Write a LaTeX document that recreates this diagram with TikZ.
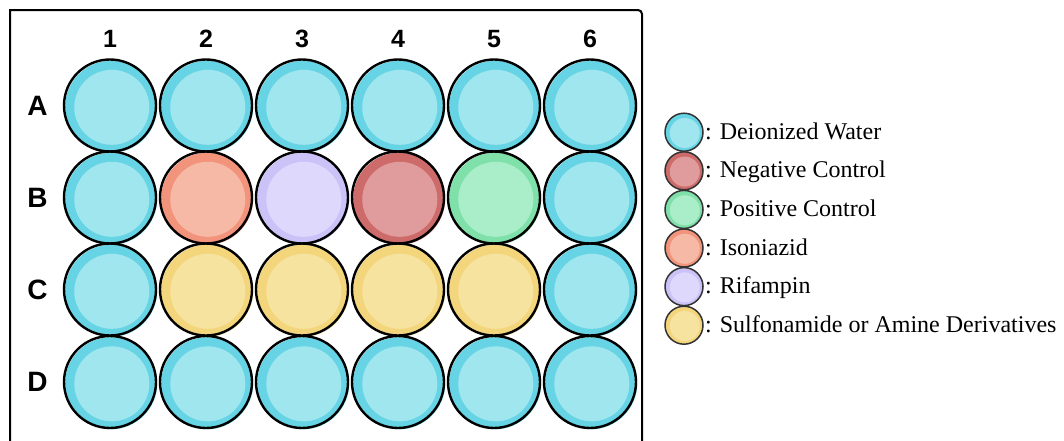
\documentclass[tikz,border=0pt]{standalone}
\usepackage{fontspec}
\setmainfont{Liberation Serif}
\newfontfamily\legfont{Liberation Serif}
\newfontfamily\labelfont{Liberation Sans}
\begin{document}
\begin{tikzpicture}[x=1pt,y=-1pt,
  % well colours: rim (darker) and centre (lighter)
  pics/well/.style n args={2}{code={
    \fill[#1] (1.2,1.2) circle (46pt);
    \fill[#2] (1.8,1.8) circle (37.5pt);
    \node[circle, draw=black, line width=2.4pt, minimum size=92pt, inner sep=0pt] (-c) at (0,0) {};
  }},
  pics/chip/.style n args={2}{code={
    \fill[#1] (0,0) circle (19pt);
    \fill[#2] (0.8,0.8) circle (15pt);
    \node[circle, draw=black!80, line width=1.5pt, minimum size=38pt, inner sep=0pt] (-c) at (0,0) {};
  }},
  collabel/.style={font=\labelfont\bfseries\fontsize{25}{30}\selectfont, inner sep=0pt},
  rowlabel/.style={font=\labelfont\bfseries\fontsize{28}{33}\selectfont, inner sep=0pt},
  legtext/.style={font=\legfont\fontsize{24}{28}\selectfont, anchor=base west, inner sep=0pt},
  plate/.style={draw=black, line width=2pt}
]
\definecolor{cyanO}{HTML}{66D4E4}
\definecolor{cyanI}{HTML}{A0E6EE}
\definecolor{isoO}{HTML}{F2937C}
\definecolor{isoI}{HTML}{F6B9A6}
\definecolor{rifO}{HTML}{CBC3F8}
\definecolor{rifI}{HTML}{DDD8FC}
\definecolor{negO}{HTML}{CD6A6A}
\definecolor{negI}{HTML}{E09C9C}
\definecolor{posO}{HTML}{7FE0AA}
\definecolor{posI}{HTML}{A9EDC9}
\definecolor{sulO}{HTML}{F3D57C}
\definecolor{sulI}{HTML}{F7E3A0}

\useasboundingbox (0,0) rectangle (1064,440);

% plate outline (open at the bottom)
\coordinate (pBL) at (10,450);
\coordinate (pTL) at (10,10);
\coordinate (pTR) at (642,10);
\coordinate (pBR) at (642,450);
\draw[plate] (pBL) -- (pTL) [rounded corners=4pt] -- (pTR) [sharp corners] -- (pBR);

% column numbers
\foreach \c/\x in {1/110,2/206,3/302,4/398,5/494,6/590}
  \node[collabel] (col\c) at (\x,39) {\c};
% row letters
\foreach \r/\y in {A/105.5,B/197.5,C/289.5,D/382}
  \node[rowlabel] (row\r) at (37.5,\y) {\r};

% row A: all water
\foreach \c/\x in {1/110,2/206,3/302,4/398,5/494,6/590}
  \pic (A\c) at (\x,105.5) {well={cyanO}{cyanI}};
% row B
\pic (B1) at (110,197.5) {well={cyanO}{cyanI}};
\pic (B2) at (206,197.5) {well={isoO}{isoI}};
\pic (B3) at (302,197.5) {well={rifO}{rifI}};
\pic (B4) at (398,197.5) {well={negO}{negI}};
\pic (B5) at (494,197.5) {well={posO}{posI}};
\pic (B6) at (590,197.5) {well={cyanO}{cyanI}};
% row C
\pic (C1) at (110,289.5) {well={cyanO}{cyanI}};
\foreach \c/\x in {2/206,3/302,4/398,5/494}
  \pic (C\c) at (\x,289.5) {well={sulO}{sulI}};
\pic (C6) at (590,289.5) {well={cyanO}{cyanI}};
% row D: all water
\foreach \c/\x in {1/110,2/206,3/302,4/398,5/494,6/590}
  \pic (D\c) at (\x,382) {well={cyanO}{cyanI}};

% legend
\pic (L1) at (684,132.2) {chip={cyanO}{cyanI}};
\pic (L2) at (684,170.8) {chip={negO}{negI}};
\pic (L3) at (684,209.4) {chip={posO}{posI}};
\pic (L4) at (684,248.0) {chip={isoO}{isoI}};
\pic (L5) at (684,286.6) {chip={rifO}{rifI}};
\pic (L6) at (684,325.2) {chip={sulO}{sulI}};
\node[legtext] (T1) at (705,139.2) {: Deionized Water};
\node[legtext] (T2) at (705,177.8) {: Negative Control};
\node[legtext] (T3) at (705,216.4) {: Positive Control};
\node[legtext] (T4) at (705,255.0) {: Isoniazid};
\node[legtext] (T5) at (705,293.6) {: Rifampin};
\node[legtext] (T6) at (705,332.2) {: Sulfonamide or Amine Derivatives};
\end{tikzpicture}
\end{document}
